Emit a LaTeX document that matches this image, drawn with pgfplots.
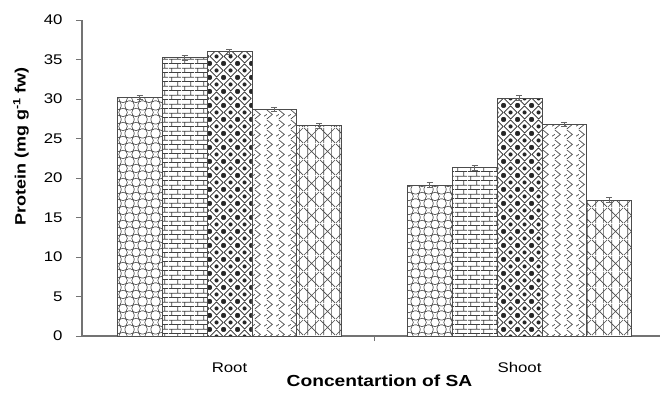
\documentclass[border=0pt]{standalone}
\usepackage{fontspec}
\setmainfont[FakeStretch=1.2]{Liberation Sans}
\usepackage{pgfplots}
\pgfplotsset{compat=1.18}
\usetikzlibrary{patterns}

\pgfdeclarepatternformonly{hexcircles}{\pgfpoint{0bp}{0bp}}{\pgfpoint{13bp}{14bp}}{\pgfpoint{13bp}{14bp}}{
  \pgfsetlinewidth{0.6bp}
  \pgfpathcircle{\pgfpoint{0bp}{0bp}}{4.6bp}
  \pgfpathcircle{\pgfpoint{13bp}{0bp}}{4.6bp}
  \pgfpathcircle{\pgfpoint{0bp}{14bp}}{4.6bp}
  \pgfpathcircle{\pgfpoint{13bp}{14bp}}{4.6bp}
  \pgfpathcircle{\pgfpoint{6.5bp}{7bp}}{4.6bp}
  \pgfusepath{stroke}}

\pgfdeclarepatternformonly{mybricks}{\pgfpoint{0bp}{0bp}}{\pgfpoint{13bp}{9.4bp}}{\pgfpoint{13bp}{9.4bp}}{
  \pgfsetlinewidth{0.8bp}
  \pgfpathmoveto{\pgfpoint{0bp}{0.4bp}}\pgfpathlineto{\pgfpoint{13bp}{0.4bp}}
  \pgfpathmoveto{\pgfpoint{0bp}{5.1bp}}\pgfpathlineto{\pgfpoint{13bp}{5.1bp}}
  \pgfpathmoveto{\pgfpoint{3bp}{0.4bp}}\pgfpathlineto{\pgfpoint{3bp}{5.1bp}}
  \pgfpathmoveto{\pgfpoint{9.5bp}{5.1bp}}\pgfpathlineto{\pgfpoint{9.5bp}{9.4bp}}
  \pgfusepath{stroke}}

\pgfdeclarepatternformonly{diamonddots}{\pgfpoint{0bp}{0bp}}{\pgfpoint{14bp}{14bp}}{\pgfpoint{14bp}{14bp}}{
  \pgfsetlinewidth{0.8bp}
  \pgfpathmoveto{\pgfpoint{0bp}{7bp}}\pgfpathlineto{\pgfpoint{7bp}{0bp}}
  \pgfpathlineto{\pgfpoint{14bp}{7bp}}\pgfpathlineto{\pgfpoint{7bp}{14bp}}
  \pgfpathclose
  \pgfusepath{stroke}
  \pgfpathcircle{\pgfpoint{0bp}{0bp}}{2.2bp}
  \pgfpathcircle{\pgfpoint{14bp}{0bp}}{2.2bp}
  \pgfpathcircle{\pgfpoint{0bp}{14bp}}{2.2bp}
  \pgfpathcircle{\pgfpoint{14bp}{14bp}}{2.2bp}
  \pgfpathcircle{\pgfpoint{7bp}{7bp}}{2.2bp}
  \pgfusepath{fill}}

\pgfdeclarepatternformonly{zigzags}{\pgfpoint{0bp}{0bp}}{\pgfpoint{12bp}{10bp}}{\pgfpoint{12bp}{10bp}}{
  \pgfsetlinewidth{0.7bp}
  \pgfpathmoveto{\pgfpoint{3bp}{0bp}}\pgfpathlineto{\pgfpoint{9bp}{5bp}}\pgfpathlineto{\pgfpoint{3bp}{10bp}}
  \pgfpathmoveto{\pgfpoint{0bp}{3bp}}\pgfpathlineto{\pgfpoint{3bp}{5bp}}
  \pgfusepath{stroke}}

\pgfdeclarepatternformonly{crossvert}{\pgfpoint{0bp}{0bp}}{\pgfpoint{16bp}{16bp}}{\pgfpoint{16bp}{16bp}}{
  \pgfsetlinewidth{0.6bp}
  \pgfpathmoveto{\pgfpoint{0bp}{0bp}}\pgfpathlineto{\pgfpoint{16bp}{16bp}}
  \pgfpathmoveto{\pgfpoint{0bp}{16bp}}\pgfpathlineto{\pgfpoint{16bp}{0bp}}
  \pgfpathmoveto{\pgfpoint{4bp}{0bp}}\pgfpathlineto{\pgfpoint{4bp}{16bp}}
  \pgfpathmoveto{\pgfpoint{12bp}{0bp}}\pgfpathlineto{\pgfpoint{12bp}{16bp}}
  \pgfusepath{stroke}}

\begin{document}
\begin{tikzpicture}
\begin{axis}[
  scale only axis, width=578bp, height=316bp,
  xmin=-0.5086, xmax=1.4845, ymin=0, ymax=40,
  axis lines=left, axis line style={-, draw=black!55, line width=1.2bp},
  ybar, bar width=0.155,
  ytick={0,5,...,40},
  xtick={0,1}, xticklabels={Root,Shoot},
  minor xtick={0.5},
  major x tick style={draw=none},
  minor tick length=5bp,
  tick align=outside, major tick length=6bp,
  tick style={draw=black!55, line width=1bp},
  /pgf/number format/assume math mode=true,
  yticklabel style={font=\fontsize{14bp}{16bp}\selectfont, xshift=-10bp},
  xticklabel style={font=\fontsize{14bp}{16bp}\selectfont, yshift=-17bp},
  xlabel={Concentartion of SA},
  ylabel={Protein (mg g\textsuperscript{-1} fw)},
  every axis x label/.style={at={(axis description cs:0.5147,-0.1424)}, anchor=center, font=\bfseries\fontsize{16bp}{18bp}\selectfont},
  every axis y label/.style={at={(axis description cs:-0.1055,0.600)}, anchor=center, rotate=90, font=\bfseries\fontsize{15bp}{18bp}\selectfont},
  every axis plot/.append style={draw=black!70, line width=0.9bp, fill=white,
    error bars/y dir=both, error bars/y explicit,
    error bars/error bar style={draw=black!60, line width=0.8bp},
    error bars/error mark options={rotate=90, mark size=3bp, draw=black!60, line width=0.8bp}},
]
\addplot[bar shift=-0.31, postaction={pattern=hexcircles, pattern color=black!75}] coordinates {(0,30.2) +- (0,0.3) (1,19.1) +- (0,0.3)};
\addplot[bar shift=-0.155, postaction={pattern=mybricks, pattern color=black!75}] coordinates {(0,35.2) +- (0,0.3) (1,21.3) +- (0,0.3)};
\addplot[bar shift=0, postaction={pattern=diamonddots, pattern color=black!85}] coordinates {(0,36.0) +- (0,0.3) (1,30.1) +- (0,0.3)};
\addplot[bar shift=0.155, postaction={pattern=zigzags, pattern color=black!75}] coordinates {(0,28.7) +- (0,0.3) (1,26.8) +- (0,0.3)};
\addplot[bar shift=0.31, postaction={pattern=crossvert, pattern color=black!70}] coordinates {(0,26.6) +- (0,0.3) (1,17.2) +- (0,0.3)};
\coordinate (bl) at (rel axis cs:0,0);
\coordinate (tr) at (rel axis cs:1,1);
\end{axis}
\pgfresetboundingbox
\path ([shift={(-82bp,-63bp)}]bl) rectangle ([shift={(0bp,20bp)}]tr);
\end{tikzpicture}
\end{document}
